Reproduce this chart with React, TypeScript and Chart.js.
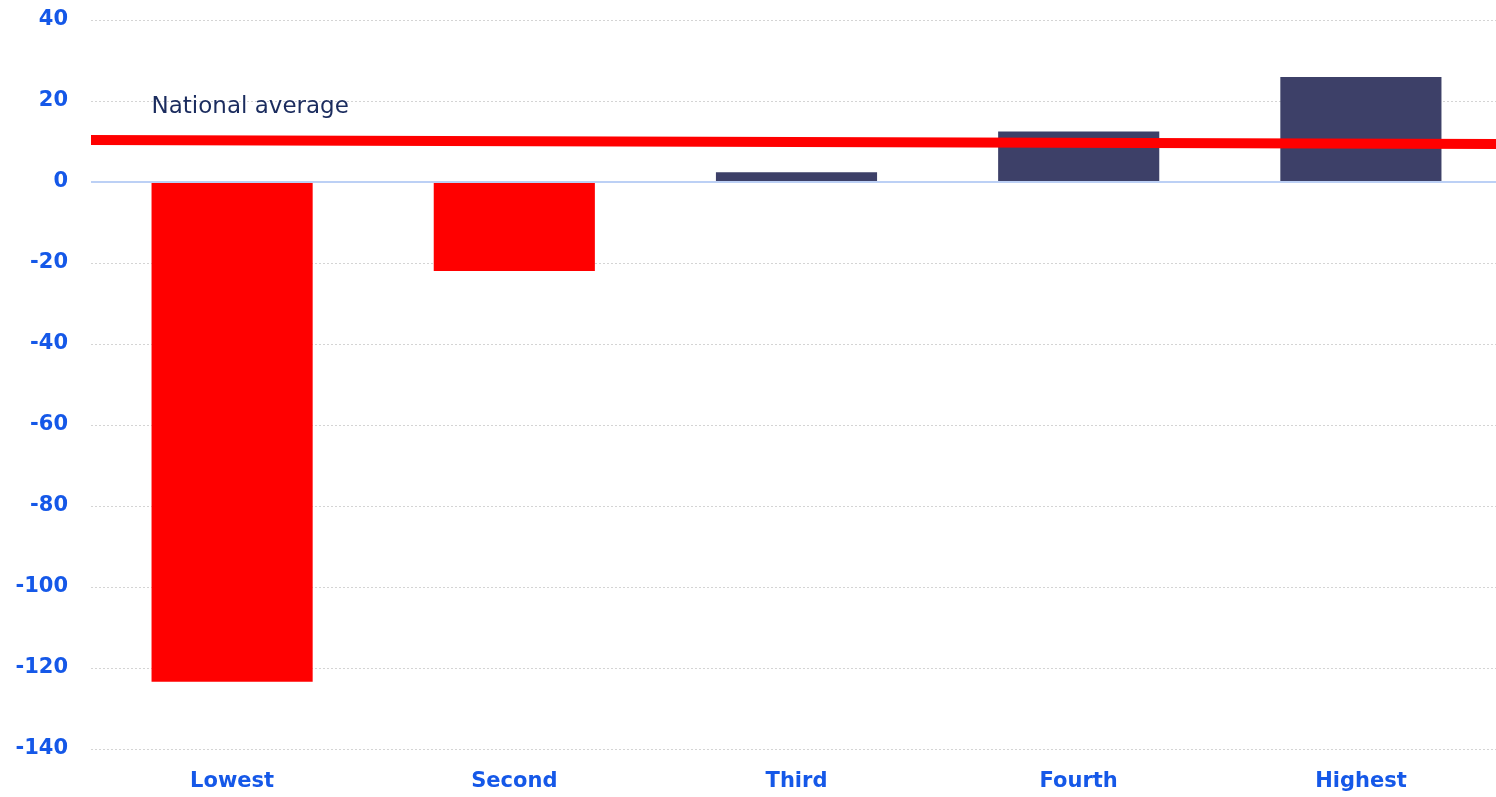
import React, { useEffect, useRef } from "react";
import { Chart, registerables } from "chart.js";

Chart.register(...registerables);

const categories = ["Lowest", "Second", "Third", "Fourth", "Highest"];
const values = [-123.4, -22.0, 2.4, 12.5, 25.9];
const barColors = ["#ff0000", "#ff0000", "#3d4068", "#3d4068", "#3d4068"];
const nationalAverage = [10.4, 9.4];
const nationalLabel = "National average";
const yTicks = { min: -140, max: 40, step: 20 };

const labelPlugin = {
  id: "nationalLabel",
  afterDatasetsDraw(chart: any) {
    const { ctx, scales } = chart;
    const x = scales.x;
    const y = scales.y;
    const first = x.getPixelForValue(0);
    const bar = chart.getDatasetMeta(0).data[0];
    const left = bar ? first - bar.width / 2 : first;
    ctx.save();
    ctx.font = "23px 'DejaVu Sans'";
    ctx.fillStyle = "#1b2c5e";
    ctx.textAlign = "left";
    ctx.textBaseline = "middle";
    ctx.fillText(nationalLabel, left, y.getPixelForValue(18.6));
    ctx.restore();
  },
};

// the original plot runs a few pixels past the right edge of the picture
const extendPlugin = {
  id: "extendRight",
  afterLayout(chart: any) {
    ["x", "x2"].forEach((id) => {
      const s = chart.scales[id];
      if (!s) return;
      s.right += 6;
      s.width += 6;
      s.configure();
    });
  },
};

export default function App() {
  const ref = useRef<HTMLCanvasElement | null>(null);
  useEffect(() => {
    if (!ref.current) return;
    const chart = new Chart(ref.current, {
      type: "bar",
      data: {
        labels: categories,
        datasets: [
          {
            type: "bar",
            data: values,
            backgroundColor: barColors,
            barPercentage: 0.571,
            categoryPercentage: 1,
            grouped: false,
            order: 2,
          } as any,
          {
            type: "line",
            data: [
              { x: 0, y: nationalAverage[0] },
              { x: 1, y: nationalAverage[1] },
            ],
            xAxisID: "x2",
            borderColor: "#ff0000",
            borderWidth: 10,
            pointRadius: 0,
            fill: false,
            order: 1,
          } as any,
        ],
      },
      options: {
        animation: false,
        responsive: true,
        maintainAspectRatio: false,
        layout: { autoPadding: false, padding: { top: 20, right: 0, bottom: 0, left: 0 } },
        plugins: { legend: { display: false }, tooltip: { enabled: false } },
        scales: {
          x: {
            offset: true,
            grid: { display: false },
            border: { display: false },
            ticks: {
              color: "#1558e8",
              font: { family: "'DejaVu Sans'", size: 21, weight: "bold" },
              padding: 12,
            },
            afterFit(scale: any) {
              scale.height = 48;
            },
          },
          x2: {
            type: "linear",
            min: 0,
            max: 1,
            offset: false,
            display: false,
          },
          y: {
            min: yTicks.min,
            max: yTicks.max,
            border: {
              display: false,
              dash: (c: any) => (c.tick && c.tick.value === 0 ? [] : [2, 2]),
            },
            grid: {
              color: (c: any) => (c.tick && c.tick.value === 0 ? "#bcd0f5" : "#d4d4d4"),
              lineWidth: (c: any) => (c.tick && c.tick.value === 0 ? 2 : 1),
              drawTicks: false,
            },
            ticks: {
              stepSize: yTicks.step,
              color: "#1558e8",
              font: { family: "'DejaVu Sans'", size: 21, weight: "bold" },
              padding: 23,
            },
            afterFit(scale: any) {
              scale.width = 91;
              scale.paddingTop = 0;
              scale.paddingBottom = 0;
            },
          },
        },
      },
      plugins: [extendPlugin, labelPlugin],
    } as any);
    return () => chart.destroy();
  }, []);
  return (
    <div style={{ position: "absolute", left: 0, top: 0, width: 1496, height: 797, overflow: "hidden" }}>
      <canvas ref={ref} />
    </div>
  );
}
